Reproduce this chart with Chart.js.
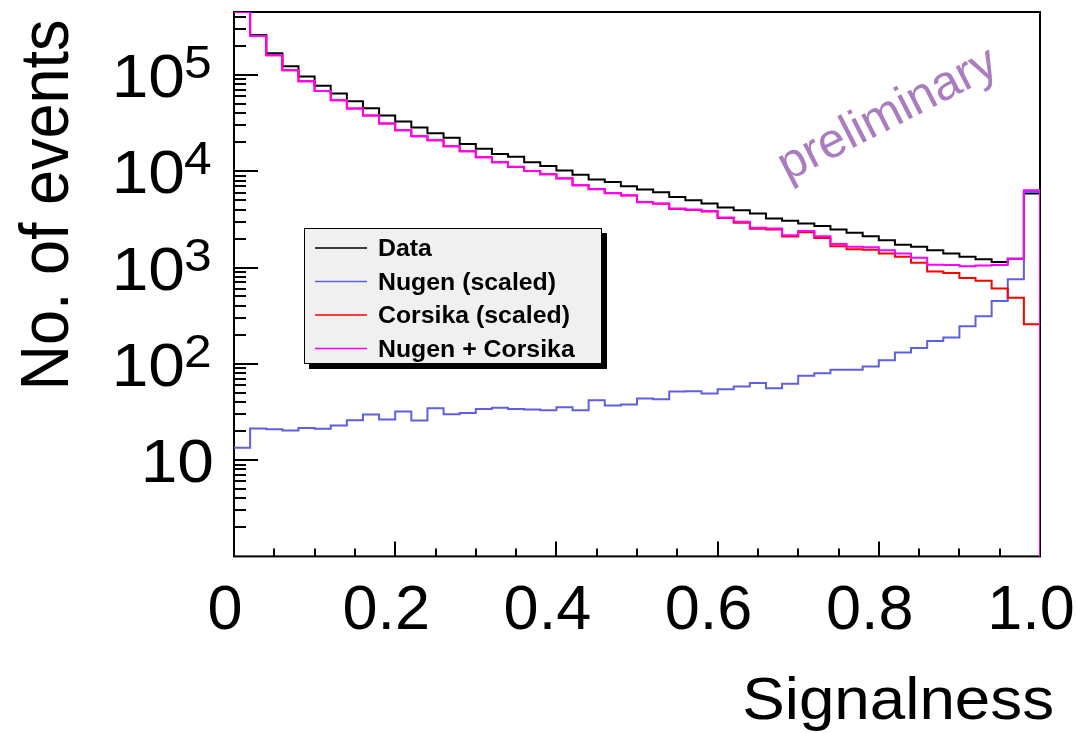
<!DOCTYPE html>
<html>
<head>
<meta charset="utf-8">
<script src="https://cdn.jsdelivr.net/npm/chart.js@4.4.1/dist/chart.umd.min.js"></script>
<style>
html,body{margin:0;padding:0;background:#fff;}
canvas{display:block;}
</style>
</head>
<body>
<canvas id="c" width="1077" height="733"></canvas>
<script>
// ---- data (50 bins of width 0.02) ----
const binLowEdges = [0.00,0.02,0.04,0.06,0.08,0.10,0.12,0.14,0.16,0.18,
                     0.20,0.22,0.24,0.26,0.28,0.30,0.32,0.34,0.36,0.38,
                     0.40,0.42,0.44,0.46,0.48,0.50,0.52,0.54,0.56,0.58,
                     0.60,0.62,0.64,0.66,0.68,0.70,0.72,0.74,0.76,0.78,
                     0.80,0.82,0.84,0.86,0.88,0.90,0.92,0.94,0.96,0.98];
const binHighEdge = 1.0;

const dataCounts = [450000,260000,168000,123000,96000,77000,64000,53300,45100,37900,
                    32800,28400,24800,22200,19200,17100,15100,14100,12400,11350,
                    10150,9160,8200,7740,6980,6450,6050,5410,5000,4620,
                    4200,3940,3640,3230,3050,2860,2690,2480,2290,2110,
                    1920,1720,1640,1510,1400,1290,1220,1140,1230,5860];

const nugenCounts = [13.4,21.3,20.9,20.3,21.6,21.1,22.9,26,29.7,26.4,
                     32,25.8,34.6,29.9,30.9,34,34.9,34,33.5,33,
                     35.4,33,41.9,36.9,37.8,43.6,42.9,51.5,52,49.2,
                     54.5,58,63,55.8,62,75,80,87,87,94,
                     109,131,146,172,188,246,312,450,755,6100];

const corsikaCounts = [450000,254000,160000,112000,86000,68000,54600,44800,37900,31300,
                       26700,23100,21000,18200,16100,14000,12400,11070,10040,9280,
                       8420,7130,6510,5910,5590,4760,4580,4050,3950,3820,
                       3260,2920,2520,2480,2100,2330,2030,1660,1550,1530,
                       1400,1290,1120,910,875,780,730,607,485,258];

const sumCounts = [450000,254000,160000,112000,86000,68000,54600,44800,37900,31300,
                   26700,23100,21000,18200,16100,14000,12400,11100,10070,9310,
                   8460,7160,6550,5950,5630,4800,4620,4100,4000,3870,
                   3310,2980,2580,2540,2160,2400,2110,1750,1640,1620,
                   1510,1400,1260,1070,1060,1030,1050,1060,1230,6350];

const seriesLabels = ['Data','Nugen (scaled)','Corsika (scaled)','Nugen + Corsika'];

const xTickValues = [0, 0.2, 0.4, 0.6, 0.8, 1.0];
const xTickLabels = ['0','0.2','0.4','0.6','0.8','1.0'];
const yTickValues = [10, 100, 1000, 10000, 100000];
const yTickBase   = ['10','10','10','10','10'];
const yTickExp    = ['','2','3','4','5'];
const xTitle = 'Signalness';
const yTitle = 'No. of events';
const watermark = 'preliminary';

// ---- helpers ----
const Y_MIN = 1, Y_MAX = 450000;
const FONT = '"Liberation Sans", Arial, Helvetica, sans-serif';
const SX = 1.08; // horizontal stretch of the reference text

function histPoints(vals){
  const pts = vals.map((v,i)=>({x: binLowEdges[i], y: v}));
  pts.push({x: binHighEdge, y: vals[vals.length-1]});
  pts.push({x: binHighEdge, y: Y_MIN});
  return pts;
}

function drawText(ctx, t, x, yb, size, align, weight){
  ctx.save();
  ctx.translate(x, yb);
  ctx.scale(SX, 1);
  ctx.font = (weight||'normal') + ' ' + size + 'px ' + FONT;
  ctx.textAlign = align;
  ctx.textBaseline = 'alphabetic';
  ctx.fillText(t, 0, 0);
  ctx.restore();
}

const decor = {
  id: 'decor',
  beforeDatasetsDraw(chart){
    const ctx = chart.ctx, a = chart.chartArea, xs = chart.scales.x, ys = chart.scales.y;
    ctx.save();
    ctx.strokeStyle = '#000';
    ctx.lineWidth = 2;
    ctx.strokeRect(a.left, a.top, a.right - a.left, a.bottom - a.top);
    ctx.lineWidth = 2;
    ctx.beginPath();
    for (let n = 0; n < 6; n++){
      for (let k = 1; k < 10; k++){
        const v = k * Math.pow(10, n);
        if (v <= Y_MIN || v >= Y_MAX) continue;
        const py = Math.round(ys.getPixelForValue(v));
        const len = (k === 1) ? 24 : 12;
        ctx.moveTo(a.left, py);
        ctx.lineTo(a.left + len, py);
      }
    }
    for (let j = 1; j < 20; j++){
      const v = j * 0.05;
      const px = Math.round(xs.getPixelForValue(v));
      const len = (j % 4 === 0) ? 15 : 8;
      ctx.moveTo(px, a.bottom);
      ctx.lineTo(px, a.bottom - len);
    }
    ctx.stroke();
    ctx.restore();
  },
  afterDraw(chart){
    const ctx = chart.ctx, ys = chart.scales.y;
    ctx.save();
    ctx.fillStyle = '#000';
    yTickValues.forEach((v, i) => {
      const py = ys.getPixelForValue(v);
      const base = py + 22;
      if (yTickExp[i]){
        drawText(ctx, yTickExp[i], 184, base - 19, 46, 'left');
        drawText(ctx, yTickBase[i], 185, base, 61, 'right');
      } else {
        drawText(ctx, yTickBase[i], 214, base, 61, 'right');
      }
    });
    ctx.save();
    ctx.translate(68, 205);
    ctx.scale(SX, 1);
    ctx.rotate(-Math.PI / 2);
    ctx.font = '63px ' + FONT;
    ctx.textAlign = 'center';
    ctx.textBaseline = 'alphabetic';
    ctx.fillText(yTitle, 0, 0);
    ctx.restore();
    drawText(ctx, xTitle, 1054, 719, 59, 'right');
    ctx.save();
    ctx.translate(888, 115);
    ctx.rotate(-27 * Math.PI / 180);
    ctx.font = '49px ' + FONT;
    ctx.fillStyle = 'rgb(170,125,192)';
    ctx.textAlign = 'center';
    ctx.textBaseline = 'middle';
    ctx.fillText(watermark, 0, 0);
    ctx.restore();
    const L = {x: 304, y: 228, w: 298, h: 136};
    ctx.fillStyle = '#000';
    ctx.fillRect(L.x + 5, L.y + 5, L.w, L.h);
    ctx.fillStyle = '#f0f0f0';
    ctx.fillRect(L.x, L.y, L.w, L.h);
    ctx.strokeStyle = '#000';
    ctx.lineWidth = 1;
    ctx.strokeRect(L.x + 0.5, L.y + 0.5, L.w - 1, L.h - 1);
    chart.data.datasets.forEach((ds, i) => {
      const ry = L.y + 20 + i * 33.5;
      ctx.strokeStyle = ds.borderColor;
      ctx.lineWidth = 1.5;
      ctx.beginPath();
      ctx.moveTo(315, ry);
      ctx.lineTo(367, ry);
      ctx.stroke();
      ctx.fillStyle = '#000';
      drawText(ctx, ds.label, 378, ry + 8, 23, 'left', 'bold');
    });
    ctx.restore();
  }
};

const colors = ['#000000', 'rgb(95,95,230)', '#ff0000', '#ff00ff'];
const seriesValues = [dataCounts, nugenCounts, corsikaCounts, sumCounts];
const drawOrder = [3, 2, 1, 0];

const datasets = seriesValues.map((vals, i) => ({
  label: seriesLabels[i],
  data: histPoints(vals),
  borderColor: colors[i],
  backgroundColor: colors[i],
  borderWidth: 2,
  pointRadius: 0,
  pointHoverRadius: 0,
  stepped: true,
  fill: false,
  tension: 0,
  order: drawOrder[i]
}));

new Chart(document.getElementById('c'), {
  type: 'line',
  data: { datasets },
  options: {
    responsive: false,
    animation: false,
    devicePixelRatio: 1,
    layout: { padding: { left: 234, right: 37, top: 12, bottom: 67 } },
    plugins: { legend: { display: false }, tooltip: { enabled: false } },
    events: [],
    scales: {
      x: {
        type: 'linear',
        position: 'bottom',
        min: 0, max: 1,
        grid: { display: false, drawTicks: false },
        border: { display: false },
        afterBuildTicks: s => { s.ticks = xTickValues.map(v => ({ value: v })); },
        afterFit: s => { s.paddingLeft = 0; s.paddingRight = 0; },
        ticks: {
          autoSkip: false,
          maxRotation: 0,
          minRotation: 0,
          padding: 17,
          labelOffset: -9,
          color: '#000',
          font: { family: FONT, size: 63 },
          callback: (v, i) => xTickLabels[i]
        }
      },
      y: {
        type: 'logarithmic',
        position: 'left',
        min: Y_MIN, max: Y_MAX,
        grid: { display: false, drawTicks: false },
        border: { display: false },
        ticks: { display: false },
        afterFit: s => { s.width = 0; }
      }
    }
  },
  plugins: [decor]
});
</script>
</body>
</html>
